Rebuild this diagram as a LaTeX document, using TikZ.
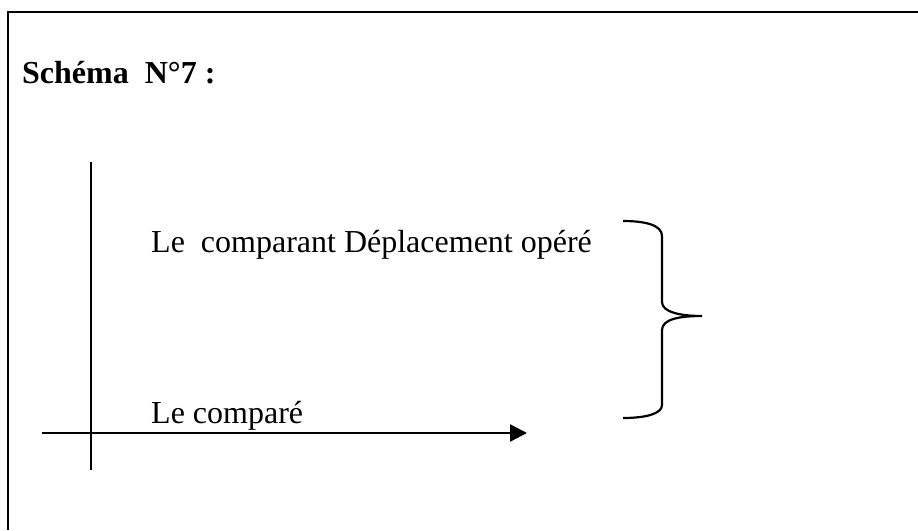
\documentclass[tikz,border=0pt]{standalone}
\usepackage{fontspec}
\setmainfont{Liberation Serif}
\usetikzlibrary{arrows.meta}
\begin{document}
\begin{tikzpicture}[x=1pt,y=-1pt,
  lbl/.style={anchor=base west,inner sep=0pt,font=\fontsize{32}{38}\selectfont},
  ln/.style={line width=2.2pt,black}]
\useasboundingbox (0,0) rectangle (918,530);
\fill[white] (0,0) rectangle (918,530);
% frame (only top and left edges visible)
\draw[ln] (8,530) -- (8,12) -- (918,12);
% title
\node[lbl,font=\bfseries\fontsize{32}{38}\selectfont] (title) at (22,83) {Schéma\ \ N°7 :};
% texts
\node[lbl] (comparant) at (151,252) {Le\ \ comparant Déplacement opéré};
\node[lbl] (compare) at (151,423) {Le comparé};
% axes
\coordinate (vtop) at (91,162);
\coordinate (vbot) at (91,470);
\coordinate (hleft) at (42,433);
\coordinate (hright) at (527,433);
\draw[ln] (vtop) -- (vbot);
\draw[ln,-{Triangle[length=17pt,width=17pt]}] (hleft) -- (hright);
% brace
\coordinate (btop) at (623,221);
\coordinate (btip) at (702,316);
\coordinate (bbot) at (623,418);
\draw[ln] (btop) .. controls (645,221) and (662,225) .. (662,236)
  -- (662,302) .. controls (662,312) and (680,316) .. (btip)
  .. controls (680,316) and (662,319) .. (662,330)
  -- (662,405) .. controls (662,414) and (645,418) .. (bbot);
\end{tikzpicture}
\end{document}
